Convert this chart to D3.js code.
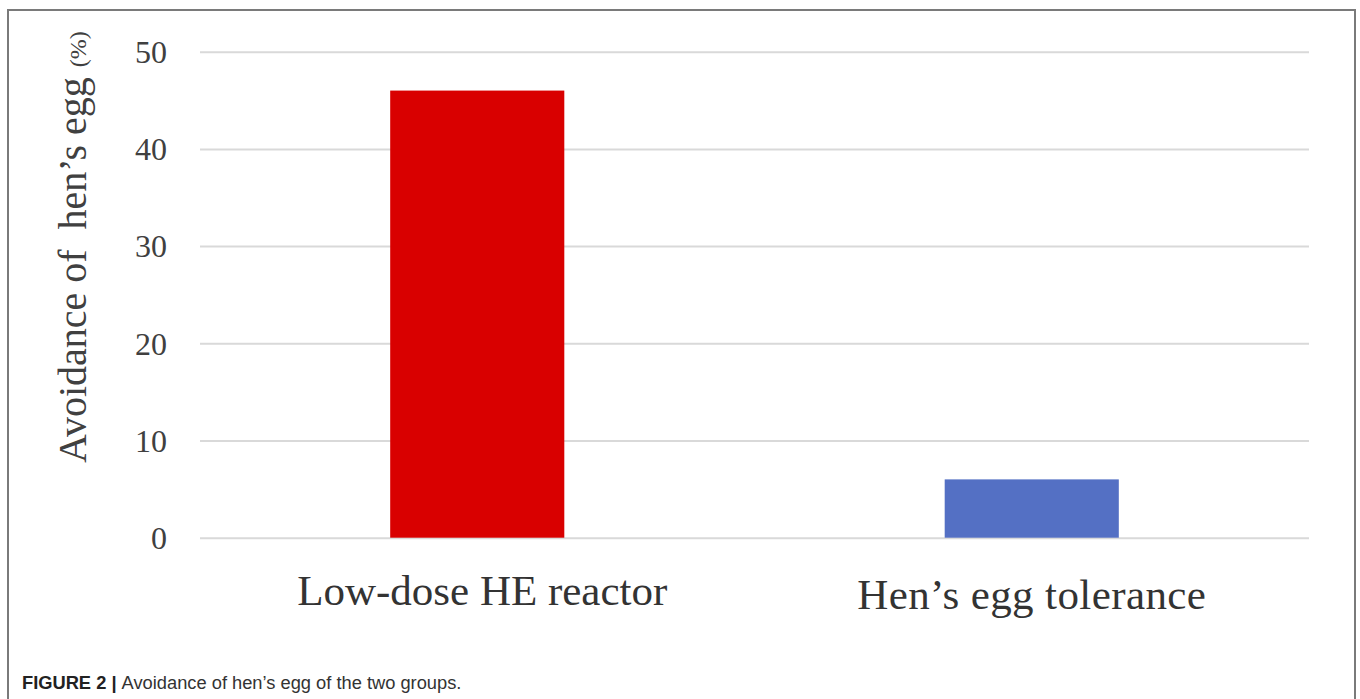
<!DOCTYPE html>
<html>
<head>
<meta charset="utf-8">
<script src="https://cdn.jsdelivr.net/npm/d3@7"></script>
<style>
  html, body { margin: 0; padding: 0; background: #fff; }
  svg { display: block; }
</style>
</head>
<body>
<svg id="chart" width="1360" height="699"></svg>
<script>
// Groups and the share of each that avoids hen's egg (%)
const groups = ["Low-dose HE reactor", "Hen\u2019s egg tolerance"];
const avoidance = [46, 6];
const barColors = ["#d90000", "#5470c4"];
const yTicks = [0, 10, 20, 30, 40, 50];

const svg = d3.select("#chart");
const W = 1360, H = 699;

// Figure frame (open at the bottom edge)
svg.append("path")
  .attr("d", `M8,${H} V10 H1355 V${H}`)
  .attr("fill", "none")
  .attr("stroke", "#7a7a7a")
  .attr("stroke-width", 2);

const plot = { left: 200, right: 1309, top: 51.7, bottom: 537.7 };

const x = d3.scaleBand()
  .domain(groups)
  .range([plot.left, plot.right])
  .paddingInner(0.686)
  .paddingOuter(0.343);

const y = d3.scaleLinear()
  .domain([0, 50])
  .range([plot.bottom, plot.top]);

// Horizontal gridlines with tick labels
const yAxis = d3.axisLeft(y)
  .tickValues(yTicks)
  .tickSize(-(plot.right - plot.left))
  .tickPadding(33)
  .tickFormat(d3.format("d"));

const gy = svg.append("g")
  .attr("transform", `translate(${plot.left},0)`)
  .call(yAxis);
gy.select(".domain").remove();
gy.selectAll(".tick line")
  .attr("stroke", "#d9d9d9")
  .attr("stroke-width", 2);
gy.selectAll(".tick text")
  .attr("fill", "#404040")
  .attr("font-family", "'Liberation Serif', 'DejaVu Serif', serif")
  .attr("font-size", 32)
  .attr("dy", "0.34em");

// Bars
svg.append("g")
  .selectAll("rect")
  .data(groups)
  .join("rect")
  .attr("x", d => x(d))
  .attr("width", x.bandwidth())
  .attr("y", (d, i) => y(avoidance[i]))
  .attr("height", (d, i) => y(0) - y(avoidance[i]))
  .attr("fill", (d, i) => barColors[i]);

// Category labels
const xAxis = d3.axisBottom(x).tickSize(0).tickPadding(0);
const gx = svg.append("g")
  .attr("transform", `translate(0,${plot.bottom})`)
  .call(xAxis);
gx.select(".domain").remove();
gx.selectAll(".tick text")
  .attr("fill", "#333")
  .attr("font-family", "'Liberation Serif', 'DejaVu Serif', serif")
  .attr("font-size", 43)
  .attr("dy", null)
  .attr("y", (d, i) => i === 0 ? 67 : 71)
  .attr("dx", (d, i) => i === 0 ? 5 : 0)
  .attr("letter-spacing", (d, i) => i === 0 ? 0 : 0.4);

// Y-axis title
const title = svg.append("text")
  .attr("transform", "translate(86,463) rotate(-90)")
  .attr("fill", "#404040")
  .attr("font-family", "'Liberation Serif', 'DejaVu Serif', serif")
  .attr("font-size", 40)
  .attr("text-anchor", "start");
title.append("tspan").text("Avoidance of\u00a0 hen\u2019s egg ");
title.append("tspan").attr("font-size", 24).text("(%)");

// Figure caption
const cap = svg.append("text")
  .attr("x", 22)
  .attr("y", 689)
  .attr("font-family", "'Liberation Sans', Arial, sans-serif")
  .attr("font-size", 18.3)
  .attr("fill", "#333");
cap.append("tspan").attr("font-weight", "bold").attr("fill", "#222").text("FIGURE 2 | ");
cap.append("tspan").text("Avoidance of hen\u2019s egg of the two groups.");
</script>
</body>
</html>
